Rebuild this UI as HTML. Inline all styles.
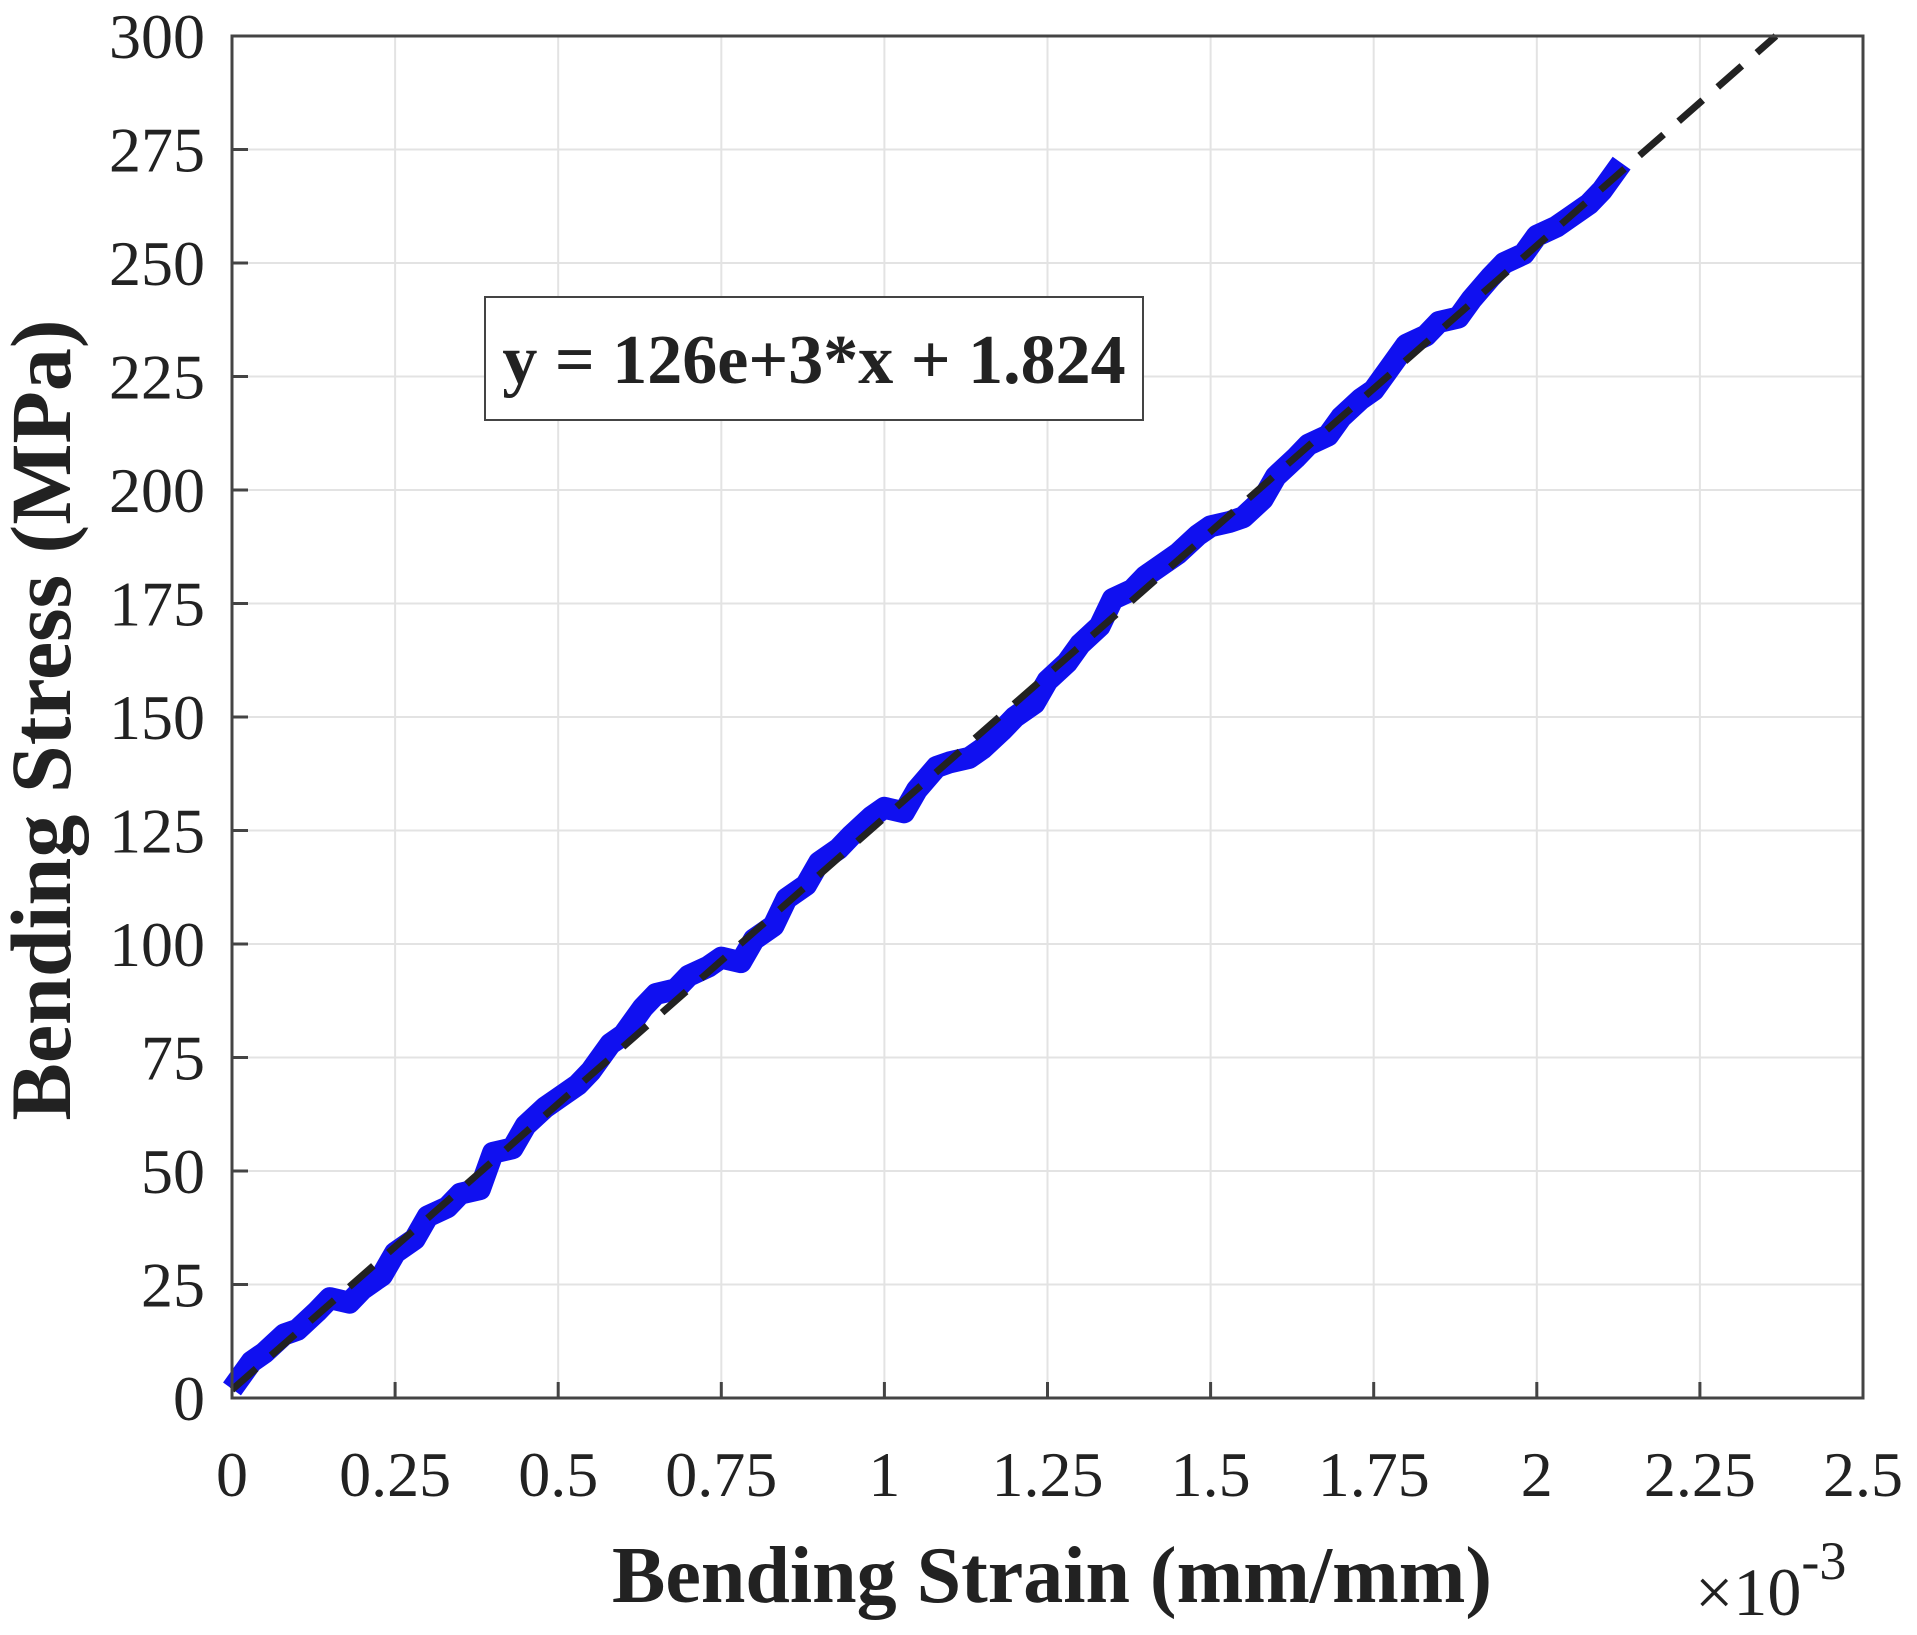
<!DOCTYPE html>
<html><head><meta charset="utf-8"><style>
body{margin:0;background:#fff}
svg text{font-family:"Liberation Serif",serif;fill:#222}
</style></head><body>
<svg id="chart" width="1917" height="1630" viewBox="0 0 1917 1630" xmlns="http://www.w3.org/2000/svg">
<g id="grid"></g>
<g id="series"></g>
<rect x="232" y="36" width="1631" height="1362" fill="none" stroke="#444" stroke-width="3"/>
<g id="ticks"></g>
<g>
<rect x="485" y="297" width="658" height="123" fill="#fff" stroke="#444" stroke-width="2"/>
<text x="814" y="383" text-anchor="middle" font-size="70" font-weight="bold" fill="#111">y = 126e+3*x + 1.824</text>
</g>
<text x="1052" y="1602" text-anchor="middle" font-size="80" font-weight="bold">Bending Strain (mm/mm)</text>
<text transform="translate(70,720) rotate(-90)" text-anchor="middle" font-size="86" font-weight="bold">Bending Stress (MPa)</text>
<text x="1695" y="1615" font-size="68">×10<tspan font-size="54" dy="-36">-3</tspan></text>
</svg>
<script>
const xTicks=[0,0.25,0.5,0.75,1,1.25,1.5,1.75,2,2.25,2.5];
const xTickLabels=["0","0.25","0.5","0.75","1","1.25","1.5","1.75","2","2.25","2.5"];
const yTicks=[0,25,50,75,100,125,150,175,200,225,250,275,300];
const strain=[0,0.03,0.05,0.08,0.1,0.13,0.15,0.18,0.2,0.23,0.25,0.28,0.3,0.33,0.35,0.38,0.4,0.43,0.45,0.48,0.5,0.53,0.55,0.58,0.6,0.63,0.65,0.68,0.7,0.73,0.75,0.78,0.8,0.83,0.85,0.88,0.9,0.93,0.95,0.98,1.0,1.03,1.05,1.08,1.1,1.13,1.15,1.18,1.2,1.23,1.25,1.28,1.3,1.33,1.35,1.38,1.4,1.43,1.45,1.48,1.5,1.53,1.55,1.58,1.6,1.63,1.65,1.68,1.7,1.73,1.75,1.78,1.8,1.83,1.85,1.88,1.9,1.93,1.95,1.98,2.0,2.03,2.05,2.08,2.1,2.13];
const stress=[2,8,10,14,15,19,22,21,24,27,32,35,40,42,45,46,54,55,60,64,66,69,72,78,80,86,89,90,93,95,97,96,101,104,110,113,118,121,124,128,130,129,134,139,140,141,143,147,150,153,158,162,166,170,176,178,181,184,186,190,192,193,194,198,203,207,210,212,216,220,222,228,232,234,237,238,242,247,250,252,256,258,260,263,266,272];
const fitSlope=126e3, fitIntercept=1.824;
const X0=232,X1=1863,Y0=1398,Y1=36;
const sx=v=>X0+(v-0)/(2.5-0)*(X1-X0);
const sy=v=>Y0-(v-0)/(300-0)*(Y0-Y1);
const NS="http://www.w3.org/2000/svg";
const mk=(t,a)=>{const e=document.createElementNS(NS,t);for(const k in a)e.setAttribute(k,a[k]);return e;};
const grid=document.getElementById('grid'),ticks=document.getElementById('ticks'),series=document.getElementById('series');
xTicks.forEach((v,i)=>{
 const g=mk('line',{x1:sx(v),x2:sx(v),y1:Y1,y2:Y0,stroke:'#e3e3e3','stroke-width':2});
 
 
 grid.appendChild(g);
 const t=mk('line',{x1:sx(v),x2:sx(v),y1:Y0,y2:Y0-16,stroke:'#444','stroke-width':3});
 
 
 ticks.appendChild(t);
 const l=mk('text',{x:sx(v),y:1496,'text-anchor':'middle','font-size':64});
 l.textContent=xTickLabels[i];
 
 
 ticks.appendChild(l);
});
yTicks.forEach(v=>{
 const g=mk('line',{x1:X0,x2:X1,y1:sy(v),y2:sy(v),stroke:'#e3e3e3','stroke-width':2});
 
 
 grid.appendChild(g);
 const t=mk('line',{x1:X0,x2:X0+16,y1:sy(v),y2:sy(v),stroke:'#444','stroke-width':3});
 
 
 ticks.appendChild(t);
 const l=mk('text',{x:205,y:sy(v)+22,'text-anchor':'end','font-size':64});
 l.textContent=String(v);
 
 
 ticks.appendChild(l);
});
const pts=strain.map((s,i)=>sx(s)+','+sy(stress[i])).join(' ');
const band=mk('polyline',{points:pts,fill:'none',stroke:'#1010f0','stroke-width':22,'stroke-linejoin':'round','stroke-linecap':'butt'});


series.appendChild(band);
const fx0=0,fx1=(300-fitIntercept)/fitSlope*1000;
const fit=mk('line',{x1:sx(fx0),y1:sy(fitIntercept),x2:sx(fx1),y2:sy(300),stroke:'#222','stroke-width':7,'stroke-dasharray':'32,20'});


series.appendChild(fit);
</script>
</body></html>
